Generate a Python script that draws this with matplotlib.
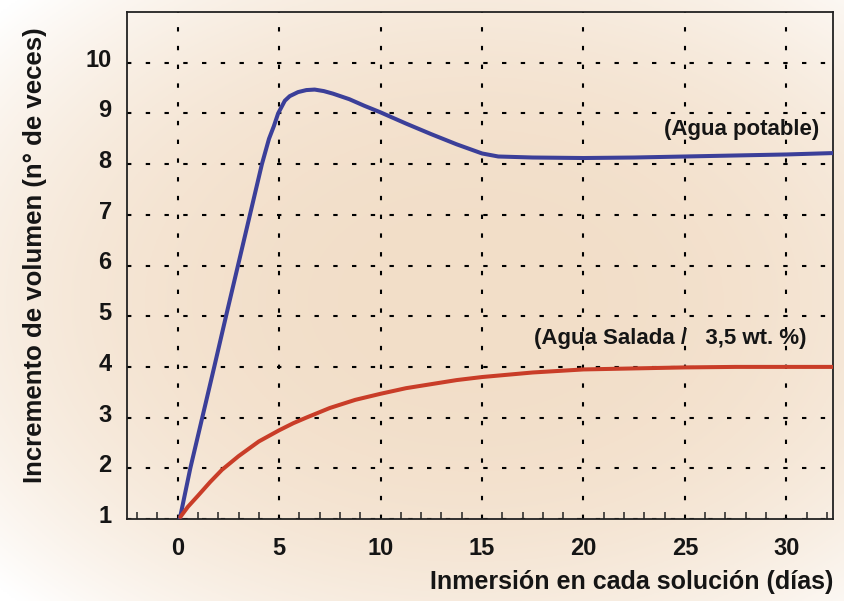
import matplotlib

matplotlib.use("Agg")
import matplotlib.pyplot as plt
import matplotlib.transforms as mtransforms
from matplotlib.ticker import MultipleLocator
import numpy as np

plt.rcParams["font.family"] = ["Liberation Sans", "DejaVu Sans"]
plt.rcParams["font.weight"] = "bold"

# Agua potable (blue)
potable_days = [0.1, 0.62, 1.21, 1.80, 2.38, 2.97, 3.56, 4.15, 4.5, 4.74, 4.95, 5.28,
                5.52, 5.93, 6.34, 6.75, 7.2, 7.65, 8.46, 9.2, 10.0, 11.25, 12.5,
                13.75, 15.0, 15.8, 17.5, 20.0, 22.5, 25.0, 27.5, 30.0, 32.5]
potable_vol = [1.0, 2.0, 3.0, 4.0, 5.0, 6.0, 7.0, 8.0, 8.5, 8.75, 9.0, 9.25,
               9.34, 9.42, 9.46, 9.47, 9.44, 9.39, 9.28, 9.15, 9.02, 8.80, 8.59,
               8.39, 8.21, 8.15, 8.13, 8.12, 8.13, 8.15, 8.17, 8.19, 8.22]

# Agua salada 3,5 wt.% (red)
salada_days = [0.13, 0.5, 1.0, 1.6, 2.18, 3.0, 4.0, 5.0, 5.7, 6.34, 7.5, 8.75,
               10.0, 11.25, 12.5, 13.75, 15.0, 17.5, 20.0, 22.5, 25.0, 27.5,
               30.0, 32.5]
salada_vol = [1.04, 1.24, 1.46, 1.73, 1.97, 2.24, 2.53, 2.75, 2.89, 3.0, 3.19, 3.35,
              3.47, 3.58, 3.66, 3.74, 3.80, 3.89, 3.95, 3.97, 3.99, 4.0,
              4.0, 4.0]

x_ticks = [0, 5, 10, 15, 20, 25, 30]
y_ticks = [1, 2, 3, 4, 5, 6, 7, 8, 9, 10]

fig = plt.figure(figsize=(8.44, 6.01), dpi=100)

# soft radial background
bg = fig.add_axes([0, 0, 1, 1], zorder=-10)
bg.axis("off")
gx, gy = np.meshgrid(np.linspace(0, 1, 422), np.linspace(0, 1, 300))
r = np.sqrt(((gx - 0.56) / 0.75) ** 2 + ((gy - 0.50) / 0.72) ** 2)
f = np.clip(1 - r ** 2.6, 0, 1)[..., None]
peach = np.array([242, 222, 200]) / 255
white = np.array([255, 255, 255]) / 255
img = white + (peach - white) * f
bg.imshow(img, extent=[0, 1, 0, 1], aspect="auto", origin="upper")
bg.set_xlim(0, 1)
bg.set_ylim(0, 1)

ax = fig.add_axes([127 / 844, 1 - 519 / 601, 706 / 844, 507 / 601])
ax.set_facecolor("none")

ax.plot(potable_days, potable_vol, color="#3b3f99", lw=2.9,
        solid_joinstyle="round", solid_capstyle="round", zorder=3)
ax.plot(salada_days, salada_vol, color="#c93d28", lw=2.9,
        solid_joinstyle="round", solid_capstyle="round", zorder=3)

ax.text(31.6, 8.69, "(Agua potable)", ha="right", va="center",
        fontsize=16, fontweight="bold", color="#151515")
ax.text(31.0, 4.56, "(Agua Salada /   3,5 wt. %)", ha="right", va="center",
        fontsize=16, fontweight="bold", color="#151515")

ax.set_xlim(-2.5, 32.3)
ax.set_ylim(1, 11)
ax.set_xticks(x_ticks)
ax.set_yticks(y_ticks)
ax.xaxis.set_minor_locator(MultipleLocator(1))

ax.grid(True, which="major", color="black", lw=1.5, linestyle=(0, (2.1, 6.9)))
ax.tick_params(which="major", length=0, labelsize=17, colors="#151515")
ax.tick_params(axis="x", which="major", pad=13)
ax.tick_params(axis="y", which="major", pad=11)
ax.tick_params(axis="x", which="minor", direction="in", length=5, width=1.1,
               color="#222222")
ax.tick_params(axis="y", which="minor", length=0)

for s in ax.spines.values():
    s.set_color("#222222")
    s.set_linewidth(1.3)

offset = mtransforms.ScaledTranslation(0, 5 / 100, fig.dpi_scale_trans)
for lbl in ax.get_yticklabels():
    lbl.set_transform(lbl.get_transform() + offset)

ax.set_xlabel("Inmersión en cada solución (días)", fontsize=18,
              fontweight="bold", color="#151515", ha="right")
ax.xaxis.set_label_coords(1.0, -0.10)
ax.set_ylabel("Incremento de volumen (n° de veces)", fontsize=18.5,
              fontweight="bold", color="#151515")
ax.yaxis.set_label_coords(-0.113, 0.52)

fig.savefig("out.png", dpi=100)
